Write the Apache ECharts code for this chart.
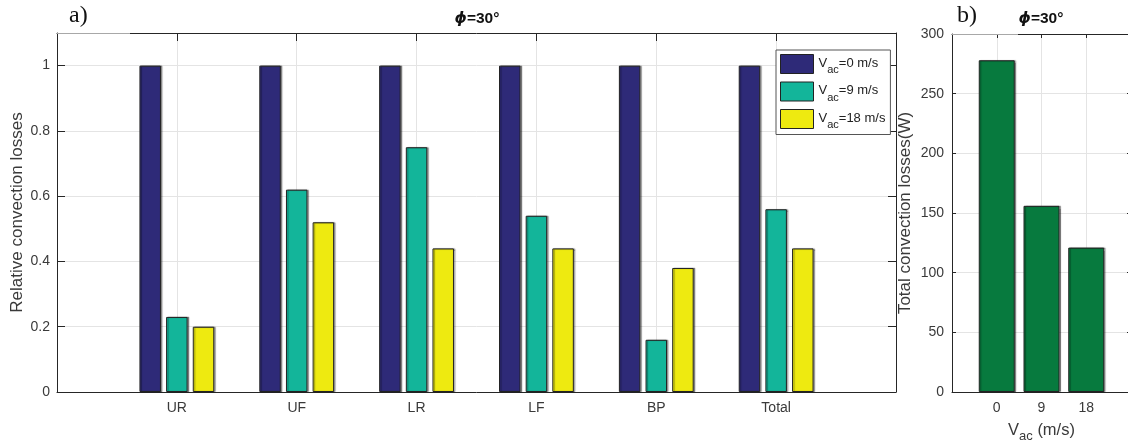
<!DOCTYPE html>
<html>
<head>
<meta charset="utf-8">
<script src="https://cdn.jsdelivr.net/npm/echarts@6/dist/echarts.min.js"></script>
<style>
  html, body { margin: 0; padding: 0; background: #fff; }
  #chart { width: 1128px; height: 445px; }
</style>
</head>
<body>
<div id="chart"></div>
<script>
// Surface groups on the x axis of panel a)
const categories = ['UR', 'UF', 'LR', 'LF', 'BP', 'Total'];
// Air speeds (m/s)
const speeds = [0, 9, 18];
// Relative convection losses per surface, one array per air speed
const relLoss0 = [1, 1, 1, 1, 1, 1];
const relLoss9 = [0.23, 0.62, 0.75, 0.54, 0.16, 0.56];
const relLoss18 = [0.20, 0.52, 0.44, 0.44, 0.38, 0.44];
// Total convection losses (W) per air speed, panel b)
const totalLoss = [278, 156, 121];

const barColors = ['#2e2a78', '#13b59a', '#eeea10'];
const totalColor = '#077a3e';
const axisColor = '#262626';
const labelColor = '#3a3a3a';
const gridColor = '#e4e4e4';
const font = 'Liberation Sans, Arial, sans-serif';

// Pad each axis with an empty slot on both sides so that the groups
// sit at 1..n on an axis that runs from 0 to n+1.
const padCats = arr => ['', ...arr.map(String), ''];
const padVals = arr => ['-', ...arr, '-'];

const relSeries = [relLoss0, relLoss9, relLoss18];

function frameAxisX(grid, data, tickLen, showLabels, position) {
  return {
    type: 'category', gridIndex: grid, data: data, boundaryGap: false, position: position,
    axisLine: { show: true, onZero: false, lineStyle: { color: axisColor, width: 1 } },
    axisTick: { show: showLabels || position === 'top', inside: true, length: tickLen, interval: 0,
      lineStyle: { color: axisColor } },
    axisLabel: { show: showLabels, interval: 0, margin: 9, color: labelColor, fontSize: 14, fontFamily: font },
    splitLine: { show: showLabels, interval: 0, lineStyle: { color: gridColor, width: 1 } }
  };
}

function frameAxisY(grid, min, max, interval, tickLen, showLabels, position, margin) {
  return {
    type: 'value', gridIndex: grid, min: min, max: max, interval: interval, position: position,
    axisLine: { show: true, onZero: false, lineStyle: { color: axisColor, width: 1 } },
    axisTick: { show: true, inside: true, length: tickLen, lineStyle: { color: axisColor } },
    axisLabel: { show: showLabels, showMaxLabel: max % interval === 0, margin: margin,
      color: labelColor, fontSize: 14, fontFamily: font },
    splitLine: { show: showLabels, lineStyle: { color: gridColor, width: 1 } }
  };
}

const nameRich = {
  n: { fontSize: 16.5, color: labelColor, fontFamily: font, verticalAlign: 'top', lineHeight: 18 },
  s: { fontSize: 13, color: labelColor, fontFamily: font, verticalAlign: 'top', lineHeight: 18, padding: [8, 0, 0, 0] }
};

const legendRich = {
  n: { fontSize: 13, color: '#222', fontFamily: font, verticalAlign: 'top', lineHeight: 15 },
  s: { fontSize: 11, color: '#222', fontFamily: font, verticalAlign: 'top', lineHeight: 15, padding: [8, 0, 0, 0] }
};

const barStyle = color => ({
  color: color, borderColor: '#222', borderWidth: 1,
  shadowColor: 'rgba(0,0,0,0.35)', shadowBlur: 1, shadowOffsetX: 1.5, shadowOffsetY: 0
});

const titleRich = {
  p: { fontSize: 15.5, fontStyle: 'italic', fontWeight: 'bold', fontFamily: 'DejaVu Sans', fill: '#111' },
  t: { fontSize: 15.5, fontWeight: 'bold', fontFamily: font, fill: '#111' }
};

const option = {
  animation: false,
  backgroundColor: '#fff',
  grid: [
    { left: 57, top: 33, width: 839, height: 359, outerBoundsMode: 'none', containLabel: false },
    { left: 952, top: 34, width: 179, height: 358, outerBoundsMode: 'none', containLabel: false }
  ],
  xAxis: [
    frameAxisX(0, padCats(categories), 8, true, 'bottom'),
    frameAxisX(0, padCats(categories), 8, false, 'top'),
    Object.assign(frameAxisX(1, padCats(speeds), 4, true, 'bottom'), {
      name: '{n|V}{s|ac}{n| (m/s)}', nameLocation: 'middle', nameGap: 30, nameMoveOverlap: false,
      nameTextStyle: { rich: nameRich }
    }),
    frameAxisX(1, padCats(speeds), 4, false, 'top')
  ],
  yAxis: [
    Object.assign(frameAxisY(0, 0, 1.1, 0.2, 8, true, 'left', 7), {
      name: 'Relative convection losses', nameLocation: 'middle', nameGap: 31, nameMoveOverlap: false,
      nameTextStyle: { fontSize: 17, color: labelColor, fontFamily: font }
    }),
    frameAxisY(0, 0, 1.1, 0.2, 8, false, 'right', 7),
    Object.assign(frameAxisY(1, 0, 300, 50, 4, true, 'left', 8), {
      name: 'Total convection losses(W)', nameLocation: 'middle', nameGap: 38, nameMoveOverlap: false,
      nameTextStyle: { fontSize: 17, color: labelColor, fontFamily: font }
    }),
    frameAxisY(1, 0, 300, 50, 4, false, 'right', 8)
  ],
  legend: {
    orient: 'vertical', left: 776, top: 50,
    itemWidth: 33, itemHeight: 19, itemGap: 6,
    padding: [4, 5, 4, 4],
    backgroundColor: '#fff', borderColor: '#555', borderWidth: 1,
    icon: 'rect',
    itemStyle: { borderColor: '#222', borderWidth: 1, shadowBlur: 0, shadowOffsetX: 0 },
    data: speeds.map(s => 'Vac=' + s + ' m/s'),
    formatter: name => '{n|V}{s|ac}{n|' + name.slice(3) + '}',
    textStyle: { rich: legendRich }
  },
  series: [
    ...speeds.map((s, i) => ({
      name: 'Vac=' + s + ' m/s', type: 'bar', xAxisIndex: 0, yAxisIndex: 0,
      data: padVals(relSeries[i]), barWidth: 21.5, barGap: '24%',
      itemStyle: barStyle(barColors[i]), z: 3
    })),
    {
      name: 'Total', type: 'bar', xAxisIndex: 2, yAxisIndex: 2,
      data: padVals(totalLoss), barWidth: 36,
      itemStyle: barStyle(totalColor), z: 3
    }
  ],
  graphic: [
    { type: 'line', z: 100, shape: { x1: 57, y1: 33.5, x2: 130, y2: 33.5 }, style: { stroke: '#a8a8a8', lineWidth: 1 } },
    { type: 'line', z: 100, shape: { x1: 952, y1: 34.5, x2: 1018, y2: 34.5 }, style: { stroke: '#a8a8a8', lineWidth: 1 } },
    { type: 'text', z: 100, x: 69, y: 4, style: { text: 'a)', font: '24px "Liberation Serif", "Times New Roman", serif', fill: '#111' } },
    { type: 'text', z: 100, x: 957, y: 4, style: { text: 'b)', font: '24px "Liberation Serif", "Times New Roman", serif', fill: '#111' } },
    { type: 'text', z: 100, x: 477, y: 11, style: { text: '{p|ϕ}{t|=30°}', align: 'center', rich: titleRich } },
    { type: 'text', z: 100, x: 1041, y: 11, style: { text: '{p|ϕ}{t|=30°}', align: 'center', rich: titleRich } }
  ]
};

const chart = echarts.init(document.getElementById('chart'), null, { renderer: 'canvas' });
chart.setOption(option);
</script>
</body>
</html>
